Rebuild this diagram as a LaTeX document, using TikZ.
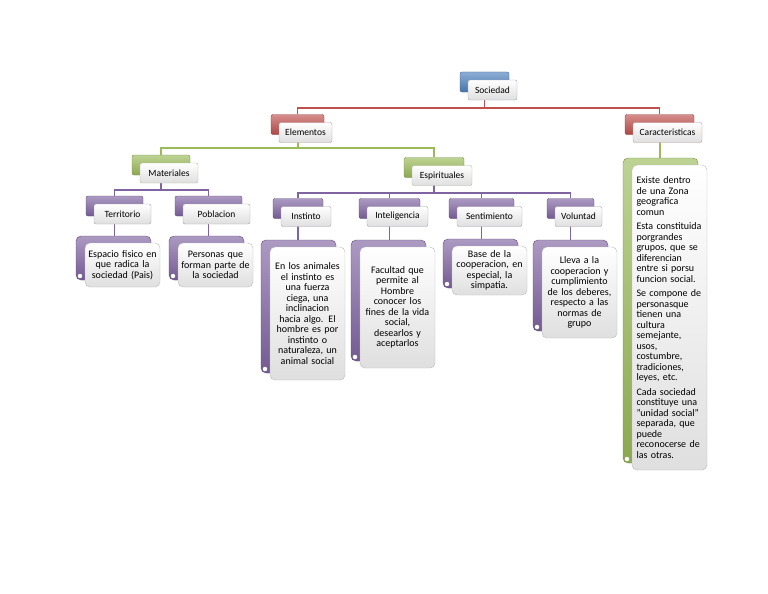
\documentclass[tikz,border=0pt]{standalone}
\usepackage{fontspec}
\setmainfont{Carlito}
\usepackage{tikz}
\usetikzlibrary{backgrounds}
\definecolor{socblue}{RGB}{79,129,189}
\definecolor{elemred}{RGB}{192,80,77}
\definecolor{matgreen}{RGB}{155,187,89}
\definecolor{purp}{RGB}{128,100,162}

\begin{document}
\begin{tikzpicture}[x=1pt, y=-1pt,
  every node/.style={font=\fontsize{9.5}{10.5}\selectfont},
  tab/.style={rectangle, rounded corners=2pt, draw=#1!75!black, top color=#1!65!white,
              bottom color=#1!90!black, minimum height=20pt, inner sep=0pt},
  lbl/.style={rectangle, rounded corners=2pt, draw=#1!45!gray!70, top color=white,
              bottom color=gray!25, minimum height=20pt, inner sep=1pt},
  scroll/.style={rectangle, rounded corners=5pt, draw=#1!75!black, top color=#1!65!white,
              bottom color=#1!90!black, minimum width=75pt, inner sep=0pt,
              path picture={\fill[white, draw=#1!80!black]
                ([xshift=4pt,yshift=4pt]path picture bounding box.south west) circle (2.6pt);}},
  note/.style={rectangle, rounded corners=5pt, draw=gray!55, top color=white,
              bottom color=gray!25, minimum width=75pt, text width=70pt, align=center,
              inner sep=2pt, font=\fontsize{10}{10.5}\selectfont},
  redln/.style={draw=elemred, line width=1.5pt},
  grnln/.style={draw=matgreen, line width=2pt},
  purln/.style={draw=purp, line width=1.6pt}
]
  \useasboundingbox (0,0) rectangle (768,594);

  \node[tab=socblue, minimum width=49pt] (socb) at (484.5,82) {};
  \node[lbl=socblue, minimum width=49pt] (soc) at ([shift={(8,8)}]socb.center) {Sociedad};

  \node[tab=elemred, minimum width=53pt] (elemb) at (297.5,124.5) {};
  \node[lbl=elemred, minimum width=53pt] (elem) at ([shift={(8,8)}]elemb.center) {Elementos};
  \node[tab=elemred, minimum width=69pt] (carb) at (659.5,124.5) {};
  \node[lbl=elemred, minimum width=69pt] (car) at ([shift={(8,8)}]carb.center) {Caracteristicas};

  \node[tab=matgreen, minimum width=58pt] (matb) at (161,165) {};
  \node[lbl=matgreen, minimum width=58pt] (mat) at ([shift={(8,8)}]matb.center) {Materiales};
  \node[tab=matgreen, minimum width=60pt] (espb) at (434,167.5) {};
  \node[lbl=matgreen, minimum width=60pt] (esp) at ([shift={(8,8)}]espb.center) {Espirituales};

  \node[tab=purp, minimum width=57pt] (terb) at (114.5,206) {};
  \node[lbl=purp, minimum width=57pt] (ter) at ([shift={(8,8)}]terb.center) {Territorio};
  \node[tab=purp, minimum width=67pt] (pobb) at (208.5,206) {};
  \node[lbl=purp, minimum width=67pt] (pob) at ([shift={(8,8)}]pobb.center) {Poblacion};
  \node[tab=purp, minimum width=50pt] (insb) at (298,208.5) {};
  \node[lbl=purp, minimum width=50pt] (ins) at ([shift={(8,8)}]insb.center) {Instinto};
  \node[tab=purp, minimum width=61pt] (intb) at (389.5,208.5) {};
  \node[lbl=purp, minimum width=61pt] (int) at ([shift={(8,8)}]intb.center) {Inteligencia};
  \node[tab=purp, minimum width=65pt] (senb) at (481.5,208.5) {};
  \node[lbl=purp, minimum width=65pt] (sen) at ([shift={(8,8)}]senb.center) {Sentimiento};
  \node[tab=purp, minimum width=47pt] (volb) at (570.5,208.5) {};
  \node[lbl=purp, minimum width=47pt] (vol) at ([shift={(8,8)}]volb.center) {Voluntad};

  \node[scroll=purp, minimum height=44pt] (tertb) at (113.5,258) {};
  \node[note, minimum height=44pt] (tert) at ([shift={(9,7)}]tertb.center)
    {Espacio fisico en\\que radica la\\sociedad (Pais)};
  \node[scroll=purp, minimum height=44pt] (pobtb) at (206.5,258) {};
  \node[note, minimum height=44pt] (pobt) at ([shift={(9,7)}]pobtb.center)
    {Personas que\\forman parte de\\la sociedad};
  \node[scroll=purp, minimum height=133pt] (instb) at (298.5,306.5) {};
  \node[note, minimum height=133pt] (inst) at ([shift={(9,7)}]instb.center)
    {En los animales\\el instinto es\\una fuerza\\ciega, una\\inclinacion\\hacia algo. El\\hombre es por\\instinto o\\naturaleza, un\\animal social};
  \node[scroll=purp, minimum height=121pt] (inttb) at (388.5,300.5) {};
  \node[note, minimum height=121pt] (intt) at ([shift={(9,7)}]inttb.center)
    {Facultad que\\permite al\\Hombre\\conocer los\\fines de la vida\\social,\\desearlos y\\aceptarlos};
  \node[scroll=purp, minimum height=49pt] (sentb) at (480.5,263.5) {};
  \node[note, minimum height=49pt] (sent) at ([shift={(9,7)}]sentb.center)
    {Base de la\\cooperacion, en\\especial, la\\simpatia.};
  \node[scroll=purp, minimum height=91pt] (voltb) at (570.5,285.5) {};
  \node[note, minimum height=91pt] (volt) at ([shift={(9,7)}]voltb.center)
    {Lleva a la\\cooperacion y\\cumplimiento\\de los deberes,\\respecto a las\\normas de\\grupo};

  \node[scroll=matgreen, minimum height=305pt] (cartb) at (660.5,310.5) {};
  \node[note, minimum height=305pt, align=left, text width=66pt] (cart) at ([shift={(9,7)}]cartb.center)
    {Existe dentro\\de una Zona\\geografica\\comun\\[4pt]
     Esta constituida\\porgrandes\\grupos, que se\\diferencian\\entre si porsu\\funcion social.\\[4pt]
     Se compone de\\personasque\\tienen una\\cultura\\semejante,\\usos,\\costumbre,\\tradiciones,\\leyes, etc.\\[4pt]
     Cada sociedad\\constituye una\\"unidad social"\\separada, que\\puede\\reconocerse de\\las otras.};

  \begin{scope}[on background layer]
    \draw[redln] (socb.south) -- ++(0,16) -| (elemb.north);
    \draw[redln] (socb.south) -- ++(0,16) -| (carb.north);
    \draw[grnln] (elemb.south) -- ++(0,13.5) -| (matb.north);
    \draw[grnln] (elemb.south) -- ++(0,13.5) -| (espb.north);
    \draw[grnln] (carb.south) -- (carb.south |- cartb.north);
    \draw[purln] (matb.south) -- ++(0,14.5) -| (terb.north);
    \draw[purln] (matb.south) -- ++(0,14.5) -| (pobb.north);
    \draw[purln] (espb.south) -- ++(0,15.5) -| (insb.north);
    \draw[purln] (espb.south) -- ++(0,15.5) -| (intb.north);
    \draw[purln] (espb.south) -- ++(0,15.5) -| (senb.north);
    \draw[purln] (espb.south) -- ++(0,15.5) -| (volb.north);
    \draw[purln] (terb.south) -- (terb.south |- tertb.north);
    \draw[purln] (pobb.south) -- (pobb.south |- pobtb.north);
    \draw[purln] (insb.south) -- (insb.south |- instb.north);
    \draw[purln] (intb.south) -- (intb.south |- inttb.north);
    \draw[purln] (senb.south) -- (senb.south |- sentb.north);
    \draw[purln] (volb.south) -- (volb.south |- voltb.north);
  \end{scope}
\end{tikzpicture}
\end{document}
